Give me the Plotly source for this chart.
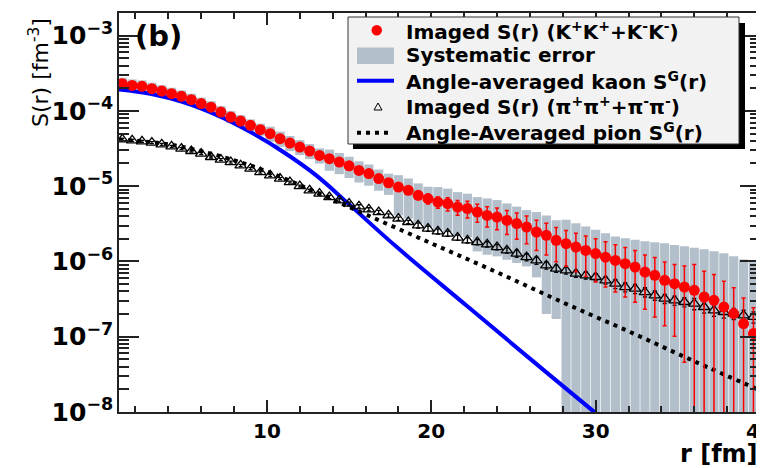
import plotly.graph_objects as go

# ---------------- data ----------------
r_bins = [1.2, 1.8, 2.4, 3.0, 3.6, 4.2, 4.8, 5.4, 6.0, 6.6,
          7.2, 7.8, 8.4, 9.0, 9.6, 10.2, 10.8, 11.4, 12.0, 12.6,
          13.2, 13.8, 14.4, 15.0, 15.6, 16.2, 16.8, 17.4, 18.0, 18.6,
          19.2, 19.8, 20.4, 21.0, 21.6, 22.2, 22.8, 23.4, 24.0, 24.6,
          25.2, 25.8, 26.4, 27.0, 27.6, 28.2, 28.8, 29.4, 30.0, 30.6,
          31.2, 31.8, 32.4, 33.0, 33.6, 34.2, 34.8, 35.4, 36.0, 36.6,
          37.2, 37.8, 38.4, 39.0, 39.6]

kaon_S = [2.30e-4, 2.18e-4, 2.12e-4, 1.97e-4, 1.83e-4, 1.69e-4, 1.56e-4, 1.41e-4, 1.25e-4, 1.12e-4,
          9.64e-5, 8.27e-5, 7.32e-5, 6.42e-5, 5.63e-5, 4.98e-5, 4.27e-5, 3.74e-5, 3.31e-5, 2.93e-5,
          2.56e-5, 2.32e-5, 2.09e-5, 1.86e-5, 1.62e-5, 1.47e-5, 1.26e-5, 1.11e-5, 9.72e-6, 8.79e-6,
          7.55e-6, 6.82e-6, 6.15e-6, 5.86e-6, 5.28e-6, 5.03e-6, 4.53e-6, 4.09e-6, 3.89e-6, 3.51e-6,
          3.18e-6, 2.86e-6, 2.46e-6, 2.22e-6, 1.91e-6, 1.72e-6, 1.55e-6, 1.40e-6, 1.27e-6, 1.14e-6,
          1.03e-6, 9.35e-7, 8.43e-7, 7.23e-7, 6.54e-7, 5.61e-7, 5.07e-7, 4.57e-7, 4.13e-7, 3.37e-7,
          3.04e-7, 2.48e-7, 2.03e-7, 1.49e-7, 1.10e-7]

# statistical error, as a fraction of S
kaon_stat_rel = [0.02] * 20 + [
    0.03, 0.03, 0.04, 0.04, 0.05, 0.05, 0.06, 0.07, 0.08, 0.10,
    0.12, 0.15, 0.17, 0.20, 0.22, 0.25, 0.27, 0.30, 0.32, 0.35,
    0.38, 0.40, 0.43, 0.45, 0.48, 0.50, 0.53, 0.55, 0.58, 0.60,
    0.62, 0.64, 0.66, 0.68, 0.72, 0.75, 0.80, 0.90, 1.20, 1.20,
    1.20, 1.20, 1.20, 1.20, 1.20]

# systematic error band (upper / lower), as a fraction of S
kaon_sys_plus = ([0.20] * 15 + [0.24] * 6 + [0.32] * 7 + [0.44] * 4 + [0.58] * 5 +
                 [0.68] * 5 + [0.84] * 3 + [1.08] * 6 +
                 [1.17, 1.30, 1.56, 1.74, 2.10, 2.27, 2.47, 2.67, 3.30, 3.48, 4.17, 4.77, 6.14, 7.85])
kaon_sys_minus = ([0.17] * 15 + [0.22] * 6 + [0.31] * 7 + [0.58] * 8 + [0.70] * 6 +
                  [0.75] + [0.91] * 2 + [0.999] * 20)

pion_S = [4.18e-5, 4.06e-5, 3.94e-5, 3.78e-5, 3.59e-5, 3.38e-5, 3.15e-5, 2.93e-5, 2.70e-5, 2.44e-5,
          2.25e-5, 2.09e-5, 1.89e-5, 1.71e-5, 1.54e-5, 1.39e-5, 1.26e-5, 1.13e-5, 1.00e-5, 8.79e-6,
          7.95e-6, 7.17e-6, 6.48e-6, 5.86e-6, 5.39e-6, 4.92e-6, 4.53e-6, 4.09e-6, 3.70e-6, 3.34e-6,
          3.02e-6, 2.73e-6, 2.51e-6, 2.34e-6, 2.07e-6, 1.91e-6, 1.81e-6, 1.69e-6, 1.55e-6, 1.40e-6,
          1.27e-6, 1.14e-6, 1.03e-6, 8.88e-7, 8.03e-7, 7.62e-7, 6.89e-7, 6.54e-7, 6.21e-7, 5.61e-7,
          5.07e-7, 4.57e-7, 4.35e-7, 3.92e-7, 3.55e-7, 3.21e-7, 3.04e-7, 2.89e-7, 2.75e-7, 2.48e-7,
          2.24e-7, 2.13e-7, 2.03e-7, 1.92e-7, 1.83e-7]
pion_stat_rel = [0.03] * 20 + [0.05] * 10 + [0.08] * 10 + [0.11] * 10 + [0.14] * 8 + [0.17] * 7

kaon_gauss_r = [1.0, 2.9, 4.9, 7.0, 9.0, 11.0, 13.0, 15.0, 17.9, 22.0, 26.0, 29.8, 30.5]
kaon_gauss_S = [1.93e-4, 1.69e-4, 1.31e-4, 8.71e-5, 5.23e-5, 2.84e-5, 1.39e-5, 5.73e-6,
                1.55e-6, 2.75e-7, 5.12e-8, 1.05e-8, 7.9e-9]

pion_gauss_r = [1, 4, 7, 10, 13, 16, 20, 24, 28, 32, 36, 40]
pion_gauss_S = [4.18e-5, 3.59e-5, 2.56e-5, 1.57e-5, 8.27e-6, 4.22e-6, 1.74e-6, 7.17e-7,
                2.86e-7, 1.18e-7, 4.72e-8, 1.94e-8]

legend_labels = [
    "Imaged S(r) (K<sup>+</sup>K<sup>+</sup>+K<sup>-</sup>K<sup>-</sup>)",
    "Systematic error",
    "Angle-averaged kaon S<sup>G</sup>(r)",
    "Imaged S(r) (π<sup>+</sup>π<sup>+</sup>+π<sup>-</sup>π<sup>-</sup>)",
    "Angle-Averaged pion S<sup>G</sup>(r)",
]

# minor tick positions of the log axis (2..9 x 10^n)
y_minor_ticks = [k * 10.0 ** e for e in range(-8, -2) for k in range(2, 10)]

# ---------------- styles ----------------
RED = "#ff0000"
BLUE = "#0000ff"
GREY = "#b3c0cb"
FONT = "DejaVu Sans"
AX = "#222222"

sys_lo = [s * (1 - m) for s, m in zip(kaon_S, kaon_sys_minus)]
sys_hi = [s * (1 + p) for s, p in zip(kaon_S, kaon_sys_plus)]
sys_h = [h - l for h, l in zip(sys_hi, sys_lo)]
kaon_err = [s * f for s, f in zip(kaon_S, kaon_stat_rel)]
pion_err = [s * f for s, f in zip(pion_S, pion_stat_rel)]

fig = go.Figure()
fig.add_trace(go.Bar(x=r_bins, y=sys_h, base=sys_lo, width=0.56,
                     marker=dict(color=GREY, line=dict(width=0)), showlegend=False))
fig.add_trace(go.Scatter(x=kaon_gauss_r, y=kaon_gauss_S, mode="lines",
                         line=dict(color=BLUE, width=4, shape="spline"), showlegend=False))
fig.add_trace(go.Scatter(x=pion_gauss_r, y=pion_gauss_S, mode="lines",
                         line=dict(color="black", width=4, dash="4px,5px", shape="spline"),
                         showlegend=False))
fig.add_trace(go.Scatter(x=r_bins, y=pion_S, mode="markers",
                         marker=dict(symbol="triangle-up-open", size=10, color="black",
                                     line=dict(width=1.3, color="black")),
                         error_y=dict(type="data", array=pion_err, arrayminus=pion_err,
                                      color="black", thickness=1.3, width=2),
                         showlegend=False))
fig.add_trace(go.Scatter(x=r_bins, y=kaon_S, mode="markers",
                         marker=dict(symbol="circle", size=11, color=RED),
                         error_y=dict(type="data", array=kaon_err, arrayminus=kaon_err,
                                      color=RED, thickness=1.5, width=2),
                         showlegend=False))
# invisible trace that carries the minor-tick overlay axis
fig.add_trace(go.Scatter(x=[r_bins[0]], y=[kaon_S[0]], yaxis="y2", mode="markers",
                         marker=dict(opacity=0), hoverinfo="skip", showlegend=False))

# The page body has an 8px margin, so the figure is shifted by OFF.
OFF = 8
W, H = 764 - OFF, 468 - OFF
L, R, T, B = 119 - OFF, 4, 13 - OFF, 56
PW, PH = W - L - R, H - T - B


def px(x):  # x in screenshot pixels -> paper
    return (x - OFF - L) / PW


def py(y):  # y in screenshot pixels -> paper
    return (H - B - (y - OFF)) / PH


shapes = []
# legend shadow + box
shapes.append(dict(type="rect", xref="paper", yref="paper", x0=px(353), x1=px(745),
                   y0=py(149), y1=py(23), fillcolor="black", line=dict(width=0), layer="above"))
shapes.append(dict(type="rect", xref="paper", yref="paper", x0=px(348), x1=px(739),
                   y0=py(144), y1=py(17), fillcolor="#f2f2f2",
                   line=dict(color="#333333", width=1), layer="above"))
# legend symbols
shapes.append(dict(type="circle", xref="paper", yref="paper", x0=px(371.5), x1=px(382),
                   y0=py(35.5), y1=py(25), fillcolor=RED, line=dict(width=0), layer="above"))
shapes.append(dict(type="rect", xref="paper", yref="paper", x0=px(357), x1=px(394),
                   y0=py(64), y1=py(47.5), fillcolor=GREY, line=dict(width=0), layer="above"))
shapes.append(dict(type="line", xref="paper", yref="paper", x0=px(357), x1=px(394),
                   y0=py(80.7), y1=py(80.7), line=dict(color=BLUE, width=4), layer="above"))
tx, ty = 378, 106.5
shapes.append(dict(type="path", xref="paper", yref="paper",
                   path=f"M {px(tx-4)} {py(ty+3.5)} L {px(tx+4)} {py(ty+3.5)} L {px(tx)} {py(ty-3.5)} Z",
                   line=dict(color="black", width=1), layer="above"))
shapes.append(dict(type="line", xref="paper", yref="paper", x0=px(357), x1=px(393),
                   y0=py(132.7), y1=py(132.7), line=dict(color="black", width=4, dash="4px,5px"),
                   layer="above"))

annotations = []
for lab, yc in zip(legend_labels, [30.5, 55.5, 80.5, 106, 132]):
    annotations.append(dict(text=lab, xref="paper", yref="paper", x=px(404), y=py(yc),
                            xanchor="left", yanchor="middle", showarrow=False,
                            font=dict(family=FONT, size=20, color="black", weight="bold")))
annotations.append(dict(text="(b)", xref="paper", yref="paper", x=px(133), y=py(36),
                        xanchor="left", yanchor="middle", showarrow=False,
                        font=dict(family=FONT, size=29, color="black", weight="bold")))
annotations.append(dict(text="r [fm]", xref="paper", yref="paper", x=px(760), y=py(454),
                        xanchor="right", yanchor="middle", showarrow=False,
                        font=dict(family=FONT, size=24, color="black", weight="bold")))
annotations.append(dict(text="S(r) [fm<sup>-3</sup>]", xref="paper", yref="paper",
                        x=px(39), y=py(73), xanchor="center", yanchor="middle",
                        textangle=-90, showarrow=False,
                        font=dict(family=FONT, size=22, color="black")))

fig.update_layout(
    width=W, height=H,
    margin=dict(l=L, r=R, t=T, b=B, autoexpand=False),
    paper_bgcolor="white", plot_bgcolor="white",
    showlegend=False,
    shapes=shapes, annotations=annotations,
    xaxis=dict(range=[1, 40], tick0=0, dtick=10, ticks="inside", ticklen=12, tickwidth=1.5,
               tickcolor=AX, showline=True, linecolor=AX, linewidth=1.5,
               mirror="ticks", showgrid=False, zeroline=False, automargin=False,
               ticklabeloverflow="allow",
               minor=dict(dtick=2, ticks="inside", ticklen=6, tickwidth=1.5, tickcolor=AX,
                          showgrid=False),
               tickfont=dict(family=FONT, size=20, color="black", weight="bold")),
    yaxis=dict(type="log", range=[-8, -2.70], dtick=1, exponentformat="power",
               ticks="inside", ticklen=20, tickwidth=1.5, tickcolor=AX,
               showline=True, linecolor=AX, linewidth=1.5, mirror="ticks",
               showgrid=False, zeroline=False, automargin=False,
               tickfont=dict(family=FONT, size=20, color="black", weight="bold")),
    yaxis2=dict(type="log", range=[-8, -2.70], overlaying="y", side="left",
                tickmode="array", tickvals=y_minor_ticks, ticks="inside", ticklen=10,
                tickwidth=1.5, tickcolor=AX, showticklabels=False, showline=False,
                mirror="ticks", showgrid=False, zeroline=False, automargin=False),
)

fig.write_html("out.html")
